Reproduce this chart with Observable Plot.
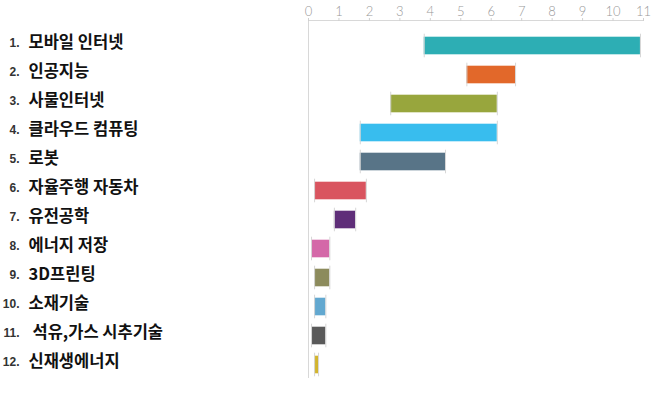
<!DOCTYPE html>
<html>
<head>
<meta charset="utf-8">
<script src="https://cdn.jsdelivr.net/npm/d3@7"></script>
<script src="https://cdn.jsdelivr.net/npm/@observablehq/plot@0.6"></script>
<style>
  html, body { margin: 0; padding: 0; background: #fff; }
</style>
</head>
<body>
<div id="chart"></div>
<script>
const ranks = [1, 2, 3, 4, 5, 6, 7, 8, 9, 10, 11, 12];
const categories = ["모바일 인터넷", "인공지능", "사물인터넷", "클라우드 컴퓨팅", "로봇", "자율주행 자동차", "유전공학", "에너지 저장", "3D프린팅", "소재기술", "석유,가스 시추기술", "신재생에너지"];
const starts = [3.8, 5.2, 2.7, 1.7, 1.7, 0.2, 0.85, 0.1, 0.2, 0.2, 0.1, 0.2];
const ends = [10.9, 6.8, 6.2, 6.2, 4.5, 1.9, 1.55, 0.7, 0.7, 0.57, 0.57, 0.33];
const colors = ["#2daeb4", "#e2682a", "#98a63d", "#38bdee", "#587487", "#d9545f", "#5f2e79", "#d468a8", "#8c8b5c", "#62a8d0", "#5a5a5a", "#d3b52d"];
const xTicks = [0, 1, 2, 3, 4, 5, 6, 7, 8, 9, 10, 11];

const data = categories.map((c, i) => ({rank: ranks[i], cat: c, start: starts[i], end: ends[i], color: colors[i]}));

const labelStyle = {y: "cat", text: "cat", frameAnchor: "left", dy: -3, textAnchor: "start", fill: "#111", fontSize: 16.5, fontWeight: "bold", fontFamily: "'Noto Sans CJK KR', sans-serif"};

const chart = Plot.plot({
  width: 655,
  height: 395,
  marginLeft: 308,
  marginRight: 12,
  marginTop: 20,
  marginBottom: 17,
  style: {background: "#fff"},
  x: {domain: [0, 11], axis: null},
  y: {type: "band", domain: categories, range: [26, 383], padding: 0, axis: null},
  color: {type: "identity"},
  marks: [
    Plot.frame({anchor: "top", stroke: "#d8d8d8"}),
    Plot.ruleX([0], {stroke: "#d8d8d8"}),
    Plot.axisX(xTicks, {anchor: "top", tickSize: 3, tickPadding: 2, stroke: "#d0d0d0", fill: "#999", fontSize: 13, fontFamily: "Lato, 'Liberation Sans', sans-serif", fontWeight: 300, tickFormat: d => String(d)}),
    Plot.barX(data, {y: "cat", x1: "start", x2: "end", fill: "color", insetTop: 5.7, insetBottom: 5.7}),
    Plot.tickX(data, {y: "cat", x: "start", stroke: "#d6d6d6", strokeWidth: 1, insetTop: 2.7, insetBottom: 2.7}),
    Plot.tickX(data, {y: "cat", x: "end", stroke: "#d6d6d6", strokeWidth: 1, insetTop: 2.7, insetBottom: 2.7}),
    Plot.text(data, {y: "cat", text: d => d.rank + ".", frameAnchor: "left", dx: -289, dy: -3, textAnchor: "end", fill: "#333", fontSize: 12, fontWeight: "bold", fontFamily: "'Liberation Sans', Arial, sans-serif"}),
    Plot.text(data, {...labelStyle, filter: d => d.rank !== 11, dx: -280}),
    Plot.text(data, {...labelStyle, filter: d => d.rank === 11, dx: -276})
  ]
});
document.getElementById("chart").appendChild(chart);
</script>
</body>
</html>
